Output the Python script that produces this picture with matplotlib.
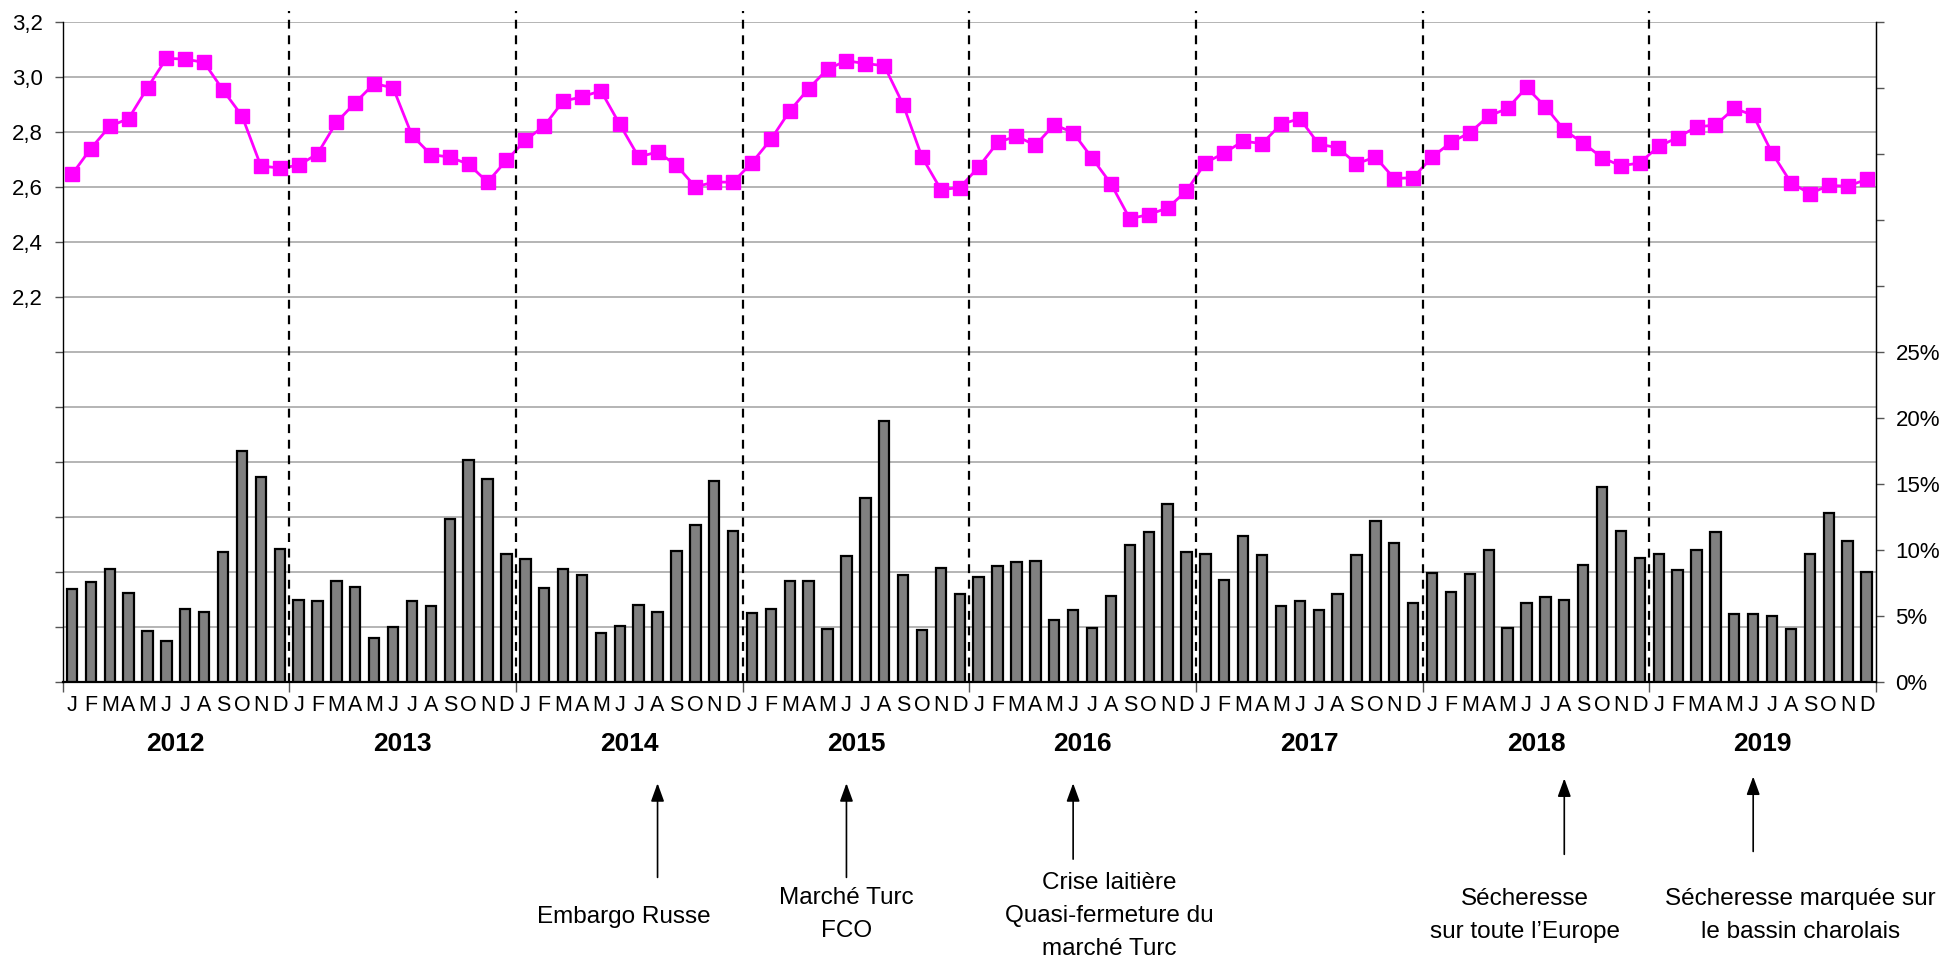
import numpy as np
import matplotlib
matplotlib.use("Agg")
import matplotlib.pyplot as plt
from matplotlib import transforms

plt.rcParams['font.family'] = ['Liberation Sans Narrow', 'Liberation Sans', 'DejaVu Sans']

years = [2012, 2013, 2014, 2015, 2016, 2017, 2018, 2019]
month_letters = ["J", "F", "M", "A", "M", "J", "J", "A", "S", "O", "N", "D"]

# prix (ligne, axe gauche)
price = [
    2.645, 2.739, 2.820, 2.848, 2.960, 3.067, 3.064, 3.052, 2.951, 2.858, 2.676, 2.668,
    2.678, 2.720, 2.834, 2.906, 2.975, 2.960, 2.787, 2.717, 2.708, 2.682, 2.617, 2.696,
    2.769, 2.821, 2.911, 2.927, 2.949, 2.827, 2.708, 2.727, 2.678, 2.600, 2.617, 2.617,
    2.688, 2.772, 2.876, 2.957, 3.028, 3.058, 3.048, 3.040, 2.899, 2.708, 2.590, 2.597,
    2.672, 2.761, 2.784, 2.751, 2.826, 2.797, 2.705, 2.611, 2.484, 2.499, 2.523, 2.585,
    2.687, 2.723, 2.766, 2.757, 2.827, 2.848, 2.755, 2.742, 2.684, 2.708, 2.630, 2.633,
    2.708, 2.761, 2.797, 2.857, 2.885, 2.961, 2.891, 2.806, 2.759, 2.706, 2.676, 2.687,
    2.747, 2.779, 2.818, 2.824, 2.885, 2.860, 2.723, 2.615, 2.575, 2.605, 2.602, 2.627,
]

# part mensuelle en % (barres, axe droit)
share = [
    7.05, 7.55, 8.56, 6.74, 3.89, 3.13, 5.56, 5.28, 9.85, 17.50, 15.50, 10.08,
    6.21, 6.11, 7.63, 7.20, 3.33, 4.19, 6.11, 5.73, 12.37, 16.80, 15.38, 9.67,
    9.29, 7.10, 8.54, 8.08, 3.69, 4.27, 5.86, 5.30, 9.90, 11.92, 15.20, 11.44,
    5.23, 5.50, 7.65, 7.65, 4.02, 9.55, 13.90, 19.77, 8.08, 3.94, 8.66, 6.67,
    7.93, 8.76, 9.07, 9.19, 4.70, 5.48, 4.09, 6.49, 10.35, 11.34, 13.46, 9.82,
    9.72, 7.75, 11.09, 9.65, 5.78, 6.11, 5.48, 6.69, 9.65, 12.20, 10.53, 5.98,
    8.28, 6.79, 8.16, 10.03, 4.09, 5.98, 6.44, 6.24, 8.86, 14.80, 11.41, 9.39,
    9.70, 8.48, 10.03, 11.34, 5.18, 5.15, 5.03, 3.99, 9.72, 12.80, 10.71, 8.36,
]

# événements (index du mois depuis janvier 2012)
event_months = [31, 41, 53, 79, 89]
event_labels = [
    "Embargo Russe",
    "Marché Turc\nFCO",
    "Crise laitière\nQuasi-fermeture du\nmarché Turc",
    "Sécheresse\nsur toute l’Europe",
    "Sécheresse marquée sur\nle bassin charolais",
]

# mise en page des annotations
text_x = [29.7, 41.5, 55.4, 77.4, 92.0]
arrow_tip = [0.185, 0.185, 0.185, 0.190, 0.192]
arrow_tail = [0.087, 0.087, 0.106, 0.111, 0.114]
text_y = [0.046, 0.048, 0.047, 0.047, 0.047]

n = len(price)
x = np.arange(n) + 0.5

fig = plt.figure(figsize=(19.41, 9.61), dpi=100)
ax = fig.add_axes([0.0322, 0.2903, 0.9343, 0.6871])
ax2 = ax.twinx()

# ── ligne prix ──
ax.plot(x, price, color="#FF00FF", lw=2.0, marker="s", markersize=10,
        markeredgecolor="#FF00FF", zorder=5)
ax.set_xlim(0, n)
ax.set_ylim(0.8, 3.2)
left_ticks = np.round(np.arange(0.8, 3.21, 0.2), 1)
ax.set_yticks(left_ticks)
ax.set_yticklabels([f"{v:.1f}".replace(".", ",") if v >= 2.2 else "" for v in left_ticks])
ax.yaxis.grid(True, color="#b4b4b4", lw=1.4)
ax.set_axisbelow(True)
ax.tick_params(axis="y", length=6, width=1, color="#555555", pad=8, labelsize=16)

# ── barres ──
ax2.bar(x, share, width=0.55, color="#808080", edgecolor="black", linewidth=1.6, zorder=3)
ax2.set_ylim(0, 50)
right_ticks = np.arange(0, 51, 5)
ax2.set_yticks(right_ticks)
ax2.set_yticklabels([f"{v}%" if v <= 25 else "" for v in right_ticks])
ax2.tick_params(axis="y", length=6, width=1, color="#555555", pad=8, labelsize=16)

for a in (ax, ax2):
    a.spines["top"].set_visible(False)
ax.spines["left"].set_linewidth(1.0)
ax2.spines["right"].set_linewidth(1.0)
ax.spines["bottom"].set_linewidth(1.6)
ax2.spines["bottom"].set_visible(False)
ax2.spines["left"].set_visible(False)

# axe x : mois + années
ax.set_xticks(np.arange(0, n + 1, 12))
ax.set_xticklabels([])
ax.tick_params(axis="x", which="major", length=7, width=1, color="#555555")
ax.set_xticks(x, minor=True)
ax.set_xticklabels(month_letters * len(years), minor=True)
ax.tick_params(axis="x", which="minor", length=0, pad=9, labelsize=15.5)

blend_fig = transforms.blended_transform_factory(ax.transData, fig.transFigure)
blend_ax = transforms.blended_transform_factory(ax.transData, ax.transAxes)

for i, yr in enumerate(years):
    ax.text(12 * i + 6, 0.226, str(yr), transform=blend_fig, ha="center", va="center",
            fontsize=19, fontweight="bold")

# séparateurs d'années
for b in range(12, n, 12):
    ax2.plot([b, b], [0, 1.016], transform=blend_ax, color="black", lw=1.6,
             ls=(0, (4, 3)), clip_on=False, zorder=6)

# annotations
for m, lab, tx, tip, tail, ty in zip(event_months, event_labels, text_x,
                                     arrow_tip, arrow_tail, text_y):
    ax.annotate("", xy=(m + 0.5, tip), xytext=(m + 0.5, tail),
                xycoords=blend_fig, textcoords=blend_fig,
                arrowprops=dict(arrowstyle="-|>,head_length=1.1,head_width=0.4",
                                color="black", lw=1.2, shrinkA=0, shrinkB=0),
                annotation_clip=False)
    ax.text(tx, ty, lab, transform=blend_fig, ha="center", va="center",
            fontsize=17.5, linespacing=1.65)

fig.savefig("out.png", dpi=100)
